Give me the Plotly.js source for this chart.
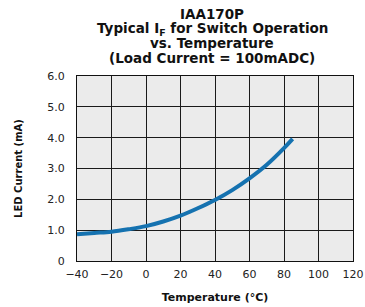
<!DOCTYPE html>
<html><head><meta charset="utf-8">
<script src="https://cdn.plot.ly/plotly-3.0.1.min.js"></script>
<style>html,body{margin:0;padding:0;background:#fff;}</style>
</head><body>
<div id="chart" style="width:365px;height:307px;"></div>
<script>
const temperature = [-40, -30, -20, -10, 0, 10, 20, 30, 40, 50, 60, 70, 80, 85];
const ledCurrent = [0.87, 0.91, 0.95, 1.03, 1.13, 1.28, 1.47, 1.71, 1.98, 2.30, 2.68, 3.12, 3.66, 3.96];
const xTicks = [-40, -20, 0, 20, 40, 60, 80, 100, 120];
const yTicks = [0, 1, 2, 3, 4, 5, 6];
const yTickText = ['0', '1.0', '2.0', '3.0', '4.0', '5.0', '6.0'];
const titleLines = ['IAA170P', 'Typical I<sub>F</sub> for Switch Operation', 'vs. Temperature', '(Load Current = 100mADC)'];
const titleY = [1.334, 1.254, 1.176, 1.095];

const bold = 'DejaVu Sans, sans-serif';
const trace = {
  x: temperature, y: ledCurrent, type: 'scatter', mode: 'lines',
  line: {color: '#1572b0', width: 4, shape: 'spline'}, hoverinfo: 'skip'
};
const annotations = titleLines.map((t, i) => ({
  text: '<b>' + t + '</b>', xref: 'paper', yref: 'paper', x: 0.49, y: titleY[i],
  xanchor: 'center', yanchor: 'middle', showarrow: false,
  font: {family: bold, size: 13.5, color: '#111'}
}));
const layout = {
  width: 365, height: 307,
  margin: {l: 77, r: 12, t: 76, b: 46},
  paper_bgcolor: '#ffffff', plot_bgcolor: '#ebebeb',
  showlegend: false,
  font: {family: 'DejaVu Sans, sans-serif', color: '#222'},
  annotations: annotations,
  xaxis: {
    range: [-40, 120], tickvals: xTicks, ticks: '', showgrid: true, gridcolor: '#1a1a1a', gridwidth: 1,
    showline: true, linecolor: '#111', linewidth: 1, mirror: true, zeroline: false,
    tickfont: {size: 11, color: '#222'}, ticklabelstandoff: 3,
    title: {text: '<b>Temperature (°C)</b>', font: {family: bold, size: 11, color: '#111'}, standoff: 13}
  },
  yaxis: {
    range: [0, 6], tickvals: yTicks, ticktext: yTickText, ticks: '', showgrid: true, gridcolor: '#1a1a1a', gridwidth: 1,
    showline: true, linecolor: '#111', linewidth: 1, mirror: true, zeroline: false,
    tickfont: {size: 11, color: '#222'}, ticklabelstandoff: 9,
    title: {text: '<b>LED Current (mA)</b>', font: {family: bold, size: 10, color: '#111'}, standoff: 22}
  }
};
Plotly.newPlot('chart', [trace], layout, {staticPlot: true, displayModeBar: false});
</script>
</body></html>
